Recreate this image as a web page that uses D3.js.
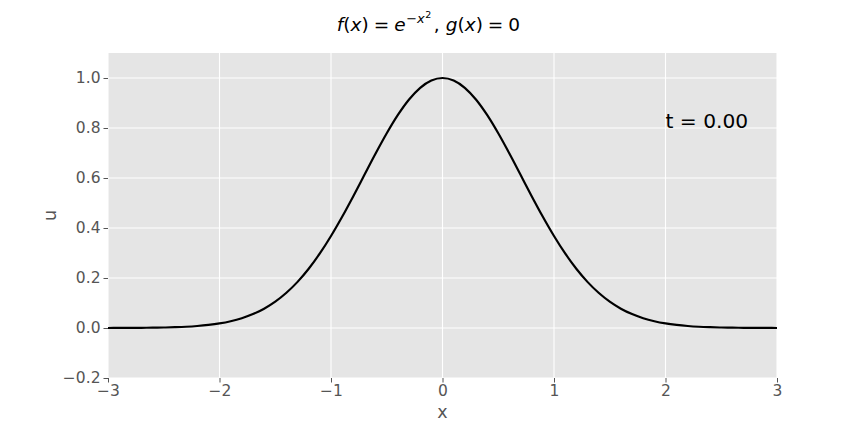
<!DOCTYPE html>
<html><head><meta charset="utf-8">
<script src="https://cdn.jsdelivr.net/npm/d3@7"></script>
<style>body{margin:0;background:#fff}svg{display:block}text{font-family:"DejaVu Sans",sans-serif}</style>
</head><body>
<svg id="c" width="864" height="432"></svg>
<script>
// Values
const xs = [-3.0,-2.9,-2.8,-2.7,-2.6,-2.5,-2.4,-2.3,-2.2,-2.1,-2.0,-1.9,-1.8,-1.7,-1.6,-1.5,-1.4,-1.3,-1.2,-1.1,-1.0,-0.9,-0.8,-0.7,-0.6,-0.5,-0.4,-0.3,-0.2,-0.1,0.0,0.1,0.2,0.3,0.4,0.5,0.6,0.7,0.8,0.9,1.0,1.1,1.2,1.3,1.4,1.5,1.6,1.7,1.8,1.9,2.0,2.1,2.2,2.3,2.4,2.5,2.6,2.7,2.8,2.9,3.0];
const us = [0.0001,0.0002,0.0004,0.0007,0.0012,0.0019,0.0032,0.0050,0.0079,0.0122,0.0183,0.0271,0.0392,0.0556,0.0773,0.1054,0.1409,0.1845,0.2369,0.2982,0.3679,0.4449,0.5273,0.6126,0.6977,0.7788,0.8521,0.9139,0.9608,0.9900,1.0000,0.9900,0.9608,0.9139,0.8521,0.7788,0.6977,0.6126,0.5273,0.4449,0.3679,0.2982,0.2369,0.1845,0.1409,0.1054,0.0773,0.0556,0.0392,0.0271,0.0183,0.0122,0.0079,0.0050,0.0032,0.0019,0.0012,0.0007,0.0004,0.0002,0.0001];
const xTicks = [-3,-2,-1,0,1,2,3];
const yTicks = [-0.2,0.0,0.2,0.4,0.6,0.8,1.0];
const timeLabel = "t = 0.00";

const svg = d3.select("#c");
const L=108, R=777, T=53, B=378;
const x = d3.scaleLinear().domain([-3,3]).range([L,R]);
const y = d3.scaleLinear().domain([-0.2,1.1]).range([B,T]);

svg.append("rect").attr("x",L).attr("y",T).attr("width",R-L).attr("height",B-T).attr("fill","#E5E5E5");

// grid
svg.append("g").selectAll("line").data(xTicks).join("line")
  .attr("x1",d=>x(d)).attr("x2",d=>x(d)).attr("y1",T).attr("y2",B)
  .attr("stroke","#fff").attr("stroke-width",1.1);
svg.append("g").selectAll("line").data(yTicks).join("line")
  .attr("y1",d=>y(d)).attr("y2",d=>y(d)).attr("x1",L).attr("x2",R)
  .attr("stroke","#fff").attr("stroke-width",1.1);

const fmtMinus = s => s.replace("-","\u2212");
const xAxis = d3.axisBottom(x).tickValues(xTicks).tickSize(4.5).tickPadding(2.5).tickFormat(d=>fmtMinus(d3.format("d")(d)));
const yAxis = d3.axisLeft(y).tickValues(yTicks).tickSize(4.5).tickPadding(3).tickFormat(d=>fmtMinus(d3.format(".1f")(d)));
const gx = svg.append("g").attr("transform",`translate(0,${B})`).call(xAxis);
const gy = svg.append("g").attr("transform",`translate(${L},0)`).call(yAxis);
[gx,gy].forEach(g=>{
  g.select(".domain").remove();
  g.attr("font-size",null).attr("font-family",null);
  g.selectAll(".tick line").attr("stroke","#555").attr("stroke-width",1);
  g.selectAll(".tick text").attr("fill","#555").style("font-size","15.5px").style("font-family","'DejaVu Sans'");
});

// line
const line = d3.line().x((d,i)=>x(xs[i])).y(d=>y(d)).curve(d3.curveMonotoneX);
svg.append("path").datum(us).attr("d",line).attr("fill","none").attr("stroke","#000").attr("stroke-width",2.2);

// labels
svg.append("text").attr("x",(L+R)/2).attr("y",418).attr("text-anchor","middle").style("font-size","17.5px").attr("fill","#555").text("x");
svg.append("text").attr("transform",`translate(56,${(T+B)/2}) rotate(-90)`).attr("text-anchor","middle").style("font-size","17.5px").attr("fill","#555").text("u");

svg.append("text").attr("x",x(2)).attr("y",y(0.8)).style("font-size","20.2px").attr("fill","#000").text(timeLabel);

// title with math, laid out piece by piece
const tg = svg.append("g").style("font-size","18.5px").attr("fill","#000");
const by = 31;
const parts = [
  ["f",{it:1}],["(",{}],["x",{it:1}],[")",{gap:5}],["=",{gap:5}],["e",{gap:0.5,it:1}],
  ["\u2212",{fs:"13px",dy:-8}],["x",{fs:"13px",dy:-8,it:1,gap:0.5}],["2",{fs:"9.5px",dy:-13,gap:2.5}],
  [",",{gap:6}],["g",{it:1}],["(",{}],["x",{it:1}],[")",{gap:5}],["=",{gap:5}],["0",{}]
];
let cx = 0;
parts.forEach(([s,o])=>{
  const t = tg.append("text").attr("x",cx).attr("y",by+(o.dy||0)).text(s);
  if (o.it) t.attr("font-style","italic");
  if (o.fs) t.style("font-size",o.fs);
  cx += t.node().getComputedTextLength() + (o.gap||0);
});
tg.attr("transform",`translate(${428.5 - cx/2},0)`);
</script>
</body></html>
